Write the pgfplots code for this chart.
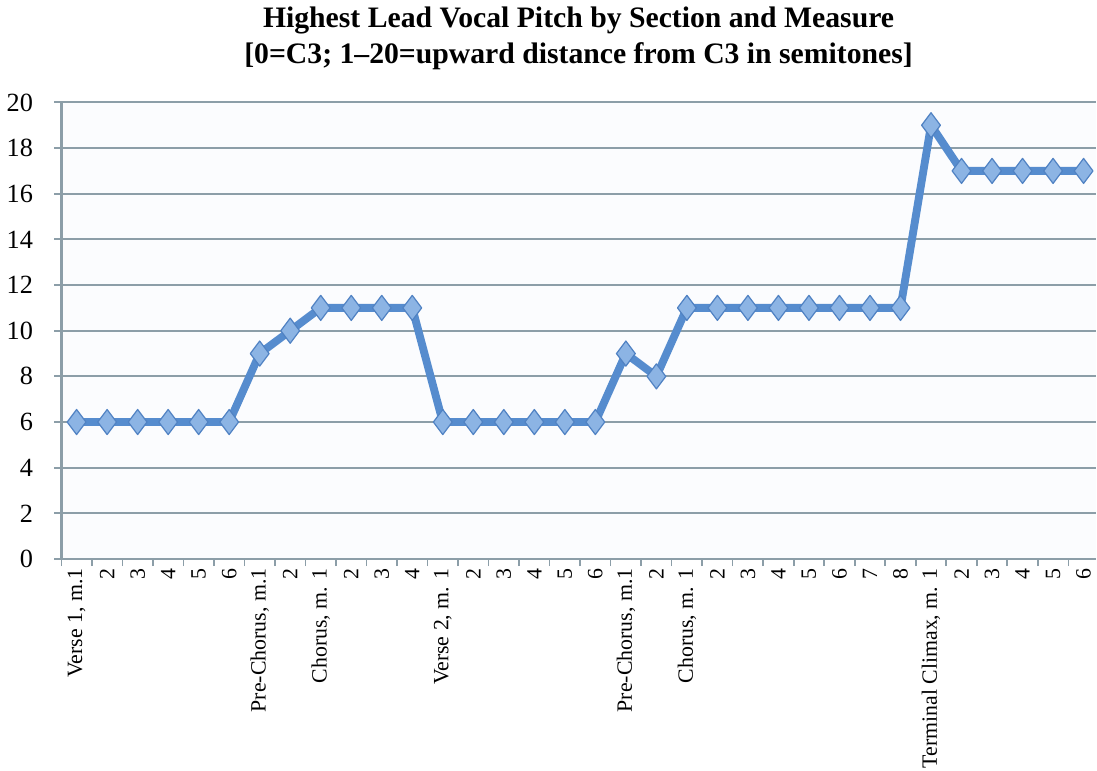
\documentclass[border=0pt]{standalone}
\usepackage{pgfplots}
\pgfplotsset{compat=1.18}
\usepackage{fontspec}
\setmainfont{Liberation Serif}
\definecolor{linecol}{RGB}{86,140,206}
\definecolor{markfill}{RGB}{140,180,228}
\definecolor{markdraw}{RGB}{80,130,195}
\definecolor{gridcol}{RGB}{140,158,168}
\definecolor{bgcol}{RGB}{251,252,254}
\begin{document}
\begin{tikzpicture}
\begin{axis}[
  scale only axis,
  width=512pt, height=226pt,
  xmin=-0.5, xmax=33.4, ymin=0, ymax=20,
  axis background/.style={fill=bgcol},
  axis x line*=bottom, axis y line*=left,
  axis line style={draw=gridcol, line width=1.2pt, -},
  ytick={0,2,...,20},
  ymajorgrids,
  major grid style={draw=gridcol, line width=1pt},
  xtick={0,...,33},
  xticklabels={{Verse 1, m.1},2,3,4,5,6,{Pre-Chorus, m.1},2,{Chorus, m. 1},2,3,4,{Verse 2, m. 1},2,3,4,5,6,{Pre-Chorus, m.1},2,{Chorus, m. 1},2,3,4,5,6,7,8,{Terminal Climax, m. 1},2,3,4,5,6},
  major x tick style={draw=none},
  minor xtick={-0.5,0.5,...,32.5},
  minor x tick style={draw=gridcol, line width=0.8pt},
  minor tick length=3.5pt,
  major tick length=3.5pt,
  y tick style={draw=gridcol, line width=1pt},
  tick align=outside,
  x tick label style={rotate=90, anchor=east, font=\fontsize{10.8}{12}\selectfont, inner sep=1pt},
  y tick label style={font=\fontsize{13}{15}\selectfont, xshift=-7pt},
  /pgf/number format/assume math mode=true,
  title={Highest Lead Vocal Pitch by Section and Measure\\{[0=C3; 1--20=upward distance from C3 in semitones]}},
  title style={font=\bfseries\fontsize{14.7}{18}\selectfont, align=center, yshift=6.5pt},
  clip=false,
]
\addplot[color=linecol, line width=3.9pt, line join=round,
  mark=diamond*, mark size=6.2pt,
  mark options={fill=markfill, draw=markdraw, line width=0.6pt}]
  coordinates {
  (0,6)(1,6)(2,6)(3,6)(4,6)(5,6)
  (6,9)(7,10)
  (8,11)(9,11)(10,11)(11,11)
  (12,6)(13,6)(14,6)(15,6)(16,6)(17,6)
  (18,9)(19,8)
  (20,11)(21,11)(22,11)(23,11)(24,11)(25,11)(26,11)(27,11)
  (28,19)(29,17)(30,17)(31,17)(32,17)(33,17)
  };
\end{axis}
\end{tikzpicture}
\end{document}
